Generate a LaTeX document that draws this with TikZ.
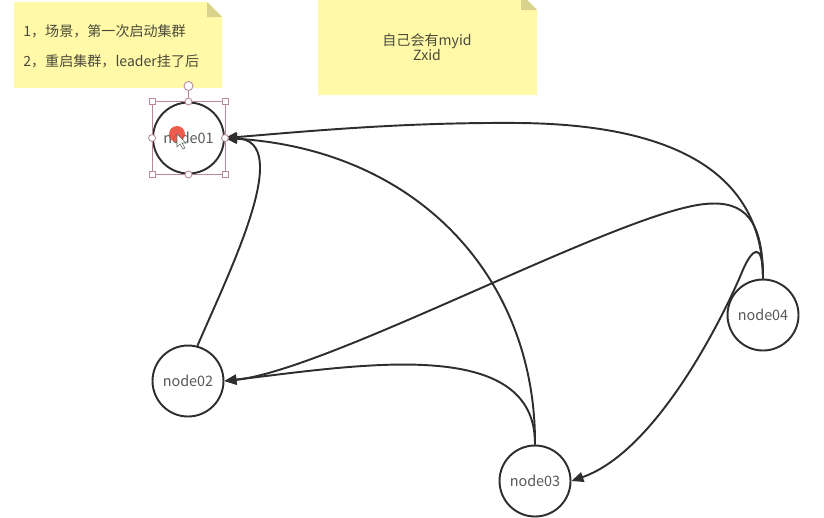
\documentclass[tikz,border=0pt]{standalone}
\usepackage{fontspec}
\setmainfont{Noto Sans CJK SC}
\usetikzlibrary{positioning, arrows.meta}

\definecolor{notefill}{HTML}{FFF9A8}
\definecolor{notefold}{HTML}{D9D28C}
\definecolor{notetext}{HTML}{4A4A3A}
\definecolor{handle}{HTML}{B88A9C}
\definecolor{edgecol}{HTML}{2E2E2E}
\definecolor{clickdot}{HTML}{EE4B3A}

\begin{document}
\begin{tikzpicture}[
    x=0.2mm, y=-0.2mm,
    >={Triangle[length=2.4mm, width=2mm]},
    edge/.style={->, line width=1.1pt, draw=edgecol},
    server/.style={circle, draw=edgecol, line width=1.1pt, fill=white, minimum size=14.2mm, inner sep=0pt, font=\fontsize{8.2}{9}\selectfont, text=black!65},
    note/.style={fill=notefill},
    fold/.style={fill=notefold},
    notetxt/.style={font=\fontsize{8}{8.6}\selectfont, text=notetext, inner sep=0pt},
    hsq/.style={rectangle, draw=handle, fill=white, line width=0.5pt, minimum size=1.2mm, inner sep=0pt},
    hcirc/.style={circle, draw=handle, fill=white, line width=0.5pt, minimum size=1.4mm, inner sep=0pt}
]

\useasboundingbox (0,0) rectangle (824,517);
\clip (0,0) rectangle (824,517);

% Sticky notes
\fill[note] (14,2) -- (207,2) -- (222,17) -- (222,88) -- (14,88) -- cycle;
\fill[fold] (207,2) -- (222,17) -- (207,17) -- cycle;
\fill[note] (318,-6) -- (521,-6) -- (537,10) -- (537,95) -- (318,95) -- cycle;
\fill[fold] (521,-6) -- (537,10) -- (521,10) -- cycle;

\node[notetxt, anchor=west] (scene1) at (23,31) {1，场景，第一次启动集群};
\node[notetxt, anchor=west] (scene2) at (23,61) {2，重启集群，leader挂了后};
\node[notetxt, align=center] (idinfo) at (427,47) {自己会有myid\\Zxid};

% Servers
\node[server] (node01) at (188.5,138) {node01};
\node[server] (node02) at (188,381) {node02};
\node[server] (node03) at (535,481) {node03};
\node[server] (node04) at (763,315) {node04};

% Edges into node01
\draw[edge] (node02.75) .. controls (230,270) and (295,140) .. (node01.east);
\draw[edge] (node04.north) .. controls (763,190) and (700,125) .. (520,123) .. controls (400,122) and (300,132) .. (node01.east);
\draw[edge] (node03.north) .. controls (536,280) and (420,150) .. (node01.east);

% Edges into node02
\draw[edge] (node04.north) .. controls (763,220) and (745,200) .. (705,204) .. controls (620,212) and (330,370) .. (node02.east);
\draw[edge] (node03.north) .. controls (536,335) and (360,365) .. (node02.east);

% Edge into node03
\draw[edge] (node04.north) .. controls (763,240) and (752,248) .. (742,272) .. controls (728,306) and (660,450) .. (node03.east);

% Selection handles on node01
\draw[handle, line width=0.5pt] (node01.west |- node01.north) rectangle (node01.east |- node01.south);
\draw[handle, line width=0.5pt] (node01.north) -- (188.5,91);
\node[hcirc, minimum size=1.8mm] (rotate) at (188.5,86) {};
\foreach \c in {north, south, east, west}
    \node[hcirc] at (node01.\c) {};
\node[hsq] at (node01.west |- node01.north) {};
\node[hsq] at (node01.east |- node01.north) {};
\node[hsq] at (node01.west |- node01.south) {};
\node[hsq] at (node01.east |- node01.south) {};

% Click marker and pointer
\fill[clickdot, opacity=0.9] (177,134) circle (1.6mm);
\filldraw[fill=white, draw=black!60, line width=0.3pt] (177,134) -- (177,147) -- (180,144) -- (183,149) -- (185,148) -- (182,143) -- (186,143) -- cycle;

\end{tikzpicture}
\end{document}
